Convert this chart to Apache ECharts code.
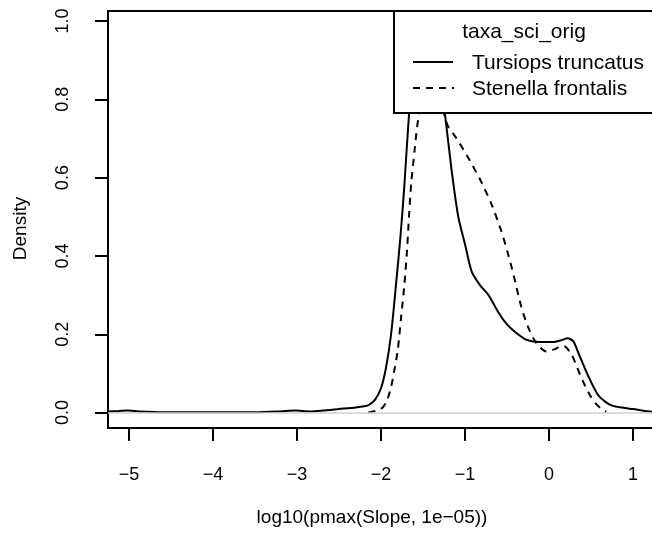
<!DOCTYPE html>
<html><head><meta charset="utf-8">
<script src="https://cdn.jsdelivr.net/npm/echarts@6/dist/echarts.min.js"></script>
<style>html,body{margin:0;padding:0;background:#fff}#c{width:652px;height:533px}</style>
</head><body><div id="c"></div>
<script>
// ---- data ----
const tursiopsX = [-5.25,-5.12,-5.02,-4.88,-4.6,-4.0,-3.5,-3.2,-3.02,-2.85,-2.7,-2.5,-2.3,-2.2,-2.14,-2.07,-2.0,-1.94,-1.88,-1.82,-1.765,-1.72,-1.667,-1.61,-1.53,-1.45,-1.37,-1.3,-1.24,-1.16,-1.08,-1.0,-0.92,-0.82,-0.72,-0.6,-0.5,-0.4,-0.27,-0.11,0.05,0.15,0.22,0.29,0.36,0.47,0.58,0.68,0.76,0.86,1.0,1.22,1.45];
const tursiopsY = [0.003,0.004,0.005,0.003,0.001,0.001,0.001,0.003,0.005,0.003,0.005,0.009,0.013,0.016,0.02,0.033,0.062,0.115,0.20,0.33,0.458,0.586,0.76,0.89,0.965,0.986,0.95,0.86,0.765,0.62,0.50,0.43,0.36,0.325,0.30,0.255,0.225,0.205,0.186,0.18,0.18,0.185,0.19,0.182,0.147,0.092,0.046,0.026,0.017,0.013,0.009,0.002,0.0];
const stenellaX = [-2.15,-2.05,-1.98,-1.93,-1.88,-1.84,-1.8,-1.76,-1.72,-1.69,-1.667,-1.64,-1.6,-1.57,-1.54,-1.47,-1.4,-1.33,-1.28,-1.24,-1.2,-1.1,-0.96,-0.82,-0.69,-0.57,-0.49,-0.42,-0.33,-0.25,-0.15,-0.03,0.07,0.15,0.19,0.27,0.35,0.43,0.5,0.56,0.62,0.68];
const stenellaY = [0.0,0.005,0.013,0.03,0.065,0.11,0.16,0.245,0.33,0.415,0.5,0.586,0.67,0.73,0.77,0.83,0.86,0.85,0.80,0.755,0.73,0.70,0.65,0.595,0.535,0.465,0.407,0.35,0.27,0.219,0.177,0.156,0.162,0.17,0.169,0.148,0.107,0.068,0.04,0.022,0.01,0.002];
const seriesNames = ['Tursiops truncatus','Stenella frontalis'];
const legendTitle = 'taxa_sci_orig';
const xTicks = [-5,-4,-3,-2,-1,0,1];
const yTicks = [0,0.2,0.4,0.6,0.8,1.0];
const xTitle = 'log10(pmax(Slope, 1e\u221205))';
const yTitle = 'Density';

const FONT = '"Liberation Sans", Arial, Helvetica, sans-serif';
const zip = (xs, ys) => xs.map((x, i) => [x, ys[i]]);
const chart = echarts.init(document.getElementById('c'), null, {renderer: 'canvas'});

const option = {
  backgroundColor: '#ffffff',
  animation: false,
  textStyle: {fontFamily: FONT, color: '#000'},
  grid: {left: 108, top: 11, width: 588, height: 417, show: true, outerBoundsMode: 'none', containLabel: false,
         borderColor: '#000', borderWidth: 2, backgroundColor: 'transparent'},
  xAxis: {
    type: 'value', min: -5.25, max: 1.75,
    name: xTitle, nameLocation: 'middle', nameGap: 80,
    nameTextStyle: {fontSize: 19, color: '#000', fontFamily: FONT, padding: [0, 60, 0, 0]},
    axisLine: {show: true, onZero: false, lineStyle: {color: '#000', width: 2}},
    axisTick: {show: true, inside: false, length: 13, customValues: xTicks, lineStyle: {color: '#000', width: 2}},
    axisLabel: {show: true, margin: 38, fontSize: 18, color: '#000', fontFamily: FONT, customValues: xTicks,
                formatter: v => String(v).replace('-', '\u2212')},
    splitLine: {show: false}
  },
  yAxis: {
    type: 'value', min: -0.0394, max: 1.0255,
    name: yTitle, nameLocation: 'middle', nameGap: 78,
    nameTextStyle: {fontSize: 19, color: '#000', fontFamily: FONT, padding: [0, 18, 0, 0]},
    axisLine: {show: true, onZero: false, lineStyle: {color: '#000', width: 2}},
    axisTick: {show: true, inside: false, length: 13, customValues: yTicks, lineStyle: {color: '#000', width: 2}},
    axisLabel: {show: true, margin: 36, rotate: 90, fontSize: 18, color: '#000', fontFamily: FONT, customValues: yTicks,
                formatter: v => v.toFixed(1)},
    splitLine: {show: false}
  },
  series: [
    {type: 'line', name: 'zero', data: [], z: 1, silent: true,
     markLine: {silent: true, symbol: ['none', 'none'], label: {show: false},
                lineStyle: {color: '#d0d0d0', width: 1.5, type: 'solid'}, data: [{yAxis: 0}]}},
    {type: 'line', name: seriesNames[0], data: zip(tursiopsX, tursiopsY), showSymbol: false, symbol: 'none',
     smooth: 0.25, z: 3, clip: true, lineStyle: {color: '#000', width: 2, type: 'solid'}},
    {type: 'line', name: seriesNames[1], data: zip(stenellaX, stenellaY), showSymbol: false, symbol: 'none',
     smooth: 0.25, z: 3, clip: true, lineStyle: {color: '#000', width: 2, type: [7, 6]}}
  ],
  graphic: [
    {type: 'rect', z: 100, shape: {x: 394, y: 11, width: 400, height: 102},
     style: {fill: '#fff', stroke: '#000', lineWidth: 2}},
    {type: 'text', z: 101, x: 524, y: 32,
     style: {text: legendTitle, fill: '#000', font: '21px ' + FONT, textAlign: 'center', textVerticalAlign: 'middle'}},
    {type: 'line', z: 101, shape: {x1: 413, y1: 62, x2: 453, y2: 62}, style: {stroke: '#000', lineWidth: 2}},
    {type: 'line', z: 101, shape: {x1: 413, y1: 88, x2: 454, y2: 88}, style: {stroke: '#000', lineWidth: 2, lineDash: [7, 6]}},
    {type: 'text', z: 101, x: 472, y: 63,
     style: {text: seriesNames[0], fill: '#000', font: '21px ' + FONT, textAlign: 'left', textVerticalAlign: 'middle'}},
    {type: 'text', z: 101, x: 472, y: 89,
     style: {text: seriesNames[1], fill: '#000', font: '21px ' + FONT, textAlign: 'left', textVerticalAlign: 'middle'}}
  ]
};
chart.setOption(option);
</script>
</body></html>
